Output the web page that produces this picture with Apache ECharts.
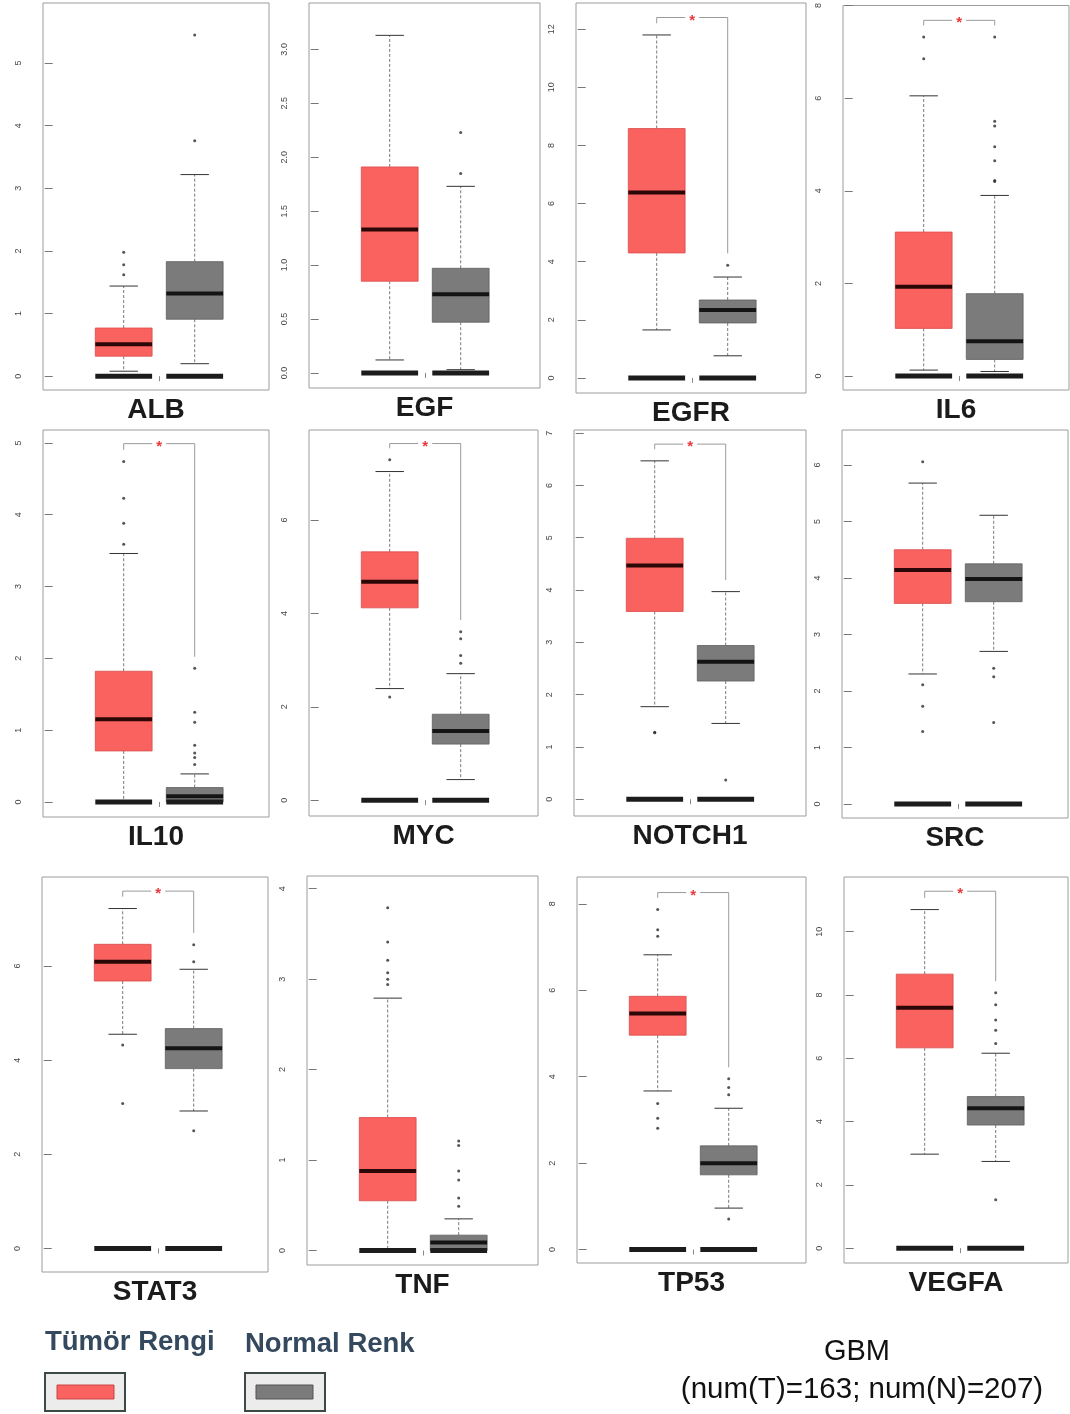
<!DOCTYPE html>
<html><head><meta charset="utf-8">
<script src="https://cdn.jsdelivr.net/npm/echarts@6/dist/echarts.min.js"></script>
<style>html,body{margin:0;padding:0;background:#fff}#c{width:1070px;height:1414px}</style>
</head><body><div id="c"></div>
<script>
// ---------- data ----------
const genes = ['ALB','EGF','EGFR','IL6','IL10','MYC','NOTCH1','SRC','STAT3','TNF','TP53','VEGFA'];
// [lower whisker, Q1, median, Q3, upper whisker]
const tumorBox = [
  [0.08,0.32,0.51,0.77,1.44],[0.12,0.85,1.33,1.91,3.13],[1.65,4.30,6.38,8.58,11.8],[0.13,1.03,1.93,3.11,6.05],
  [0.0,0.71,1.15,1.82,3.46],[2.39,4.12,4.68,5.32,7.04],[1.77,3.59,4.47,4.99,6.47],[2.3,3.55,4.14,4.5,5.68],
  [4.55,5.68,6.09,6.46,7.22],[0.0,0.55,0.88,1.47,2.79],[3.67,4.96,5.46,5.86,6.82],[2.97,6.33,7.6,8.66,10.7]
];
const normalBox = [
  [0.2,0.91,1.32,1.83,3.22],[0.03,0.47,0.73,0.97,1.73],[0.76,1.89,2.34,2.68,3.47],[0.1,0.36,0.75,1.78,3.9],
  [0.0,0.0,0.08,0.2,0.39],[0.44,1.2,1.48,1.84,2.71],[1.45,2.26,2.63,2.94,3.97],[2.7,3.58,3.98,4.25,5.11],
  [2.92,3.82,4.25,4.67,5.93],[0.0,0.0,0.09,0.17,0.35],[0.96,1.73,2.0,2.4,3.27],[2.74,3.89,4.42,4.79,6.16]
];
const tumorOut = [
  [1.62,1.78,1.98],[],[],[6.85,7.32],
  [3.59,3.88,4.23,4.74],[2.21,7.29],[1.27,1.28],[1.28,1.73,2.11,6.06],
  [3.08,4.32],[2.94,3.0,3.07,3.21,3.41,3.79],[2.81,3.04,3.38,7.25,7.4,7.87],[]
];
const normalOut = [
  [3.76,5.45],[1.85,2.23],[3.88],[4.2,4.22,4.65,4.95,5.4,5.5,7.32],
  [0.52,0.62,0.68,0.79,1.11,1.25,1.86],[2.93,3.1,3.46,3.61],[0.37],[1.44,2.25,2.4],
  [2.5,6.09,6.45],[0.49,0.58,0.78,0.88,1.16,1.21],[0.71,3.58,3.75,3.95],[1.53,6.47,6.89,7.21,7.69,8.07]
];
// significance bracket height (null = not significant)
const bracketLevel = [null,null,12.4,7.68,4.99,7.64,6.79,null,7.59,null,8.26,11.28];
const yTicks = [
  [0,1,2,3,4,5],[0,0.5,1,1.5,2,2.5,3],[0,2,4,6,8,10,12],[0,2,4,6,8],
  [0,1,2,3,4,5],[0,2,4,6],[0,1,2,3,4,5,6,7],[0,1,2,3,4,5,6],
  [0,2,4,6],[0,1,2,3,4],[0,2,4,6,8],[0,2,4,6,8,10]
];
const yRange = [
  [-0.22,5.96],[-0.14,3.43],[-0.52,12.9],[-0.3,8.0],
  [-0.21,5.18],[-0.34,7.93],[-0.32,7.06],[-0.25,6.62],
  [-0.5,7.89],[-0.16,4.14],[-0.31,8.62],[-0.47,11.73]
];
const legendLabels = ['Tümör Rengi','Normal Renk'];
const cohortTitle = 'GBM';
const cohortCounts = '(num(T)=163; num(N)=207)';

// ---------- layout ----------
const frames = [
  [43,3,269,390],[309,3,540,388],[576,3,806,393],[843,3,1069,390],
  [43,430,269,817],[309,430,538,816],[574,430,806,816],[842,430,1068,818],
  [42,877,268,1272],[307,876,538,1265],[577,877,806,1263],[844,877,1068,1263]
];
const UNIT = 71, TOFF = 80.7;
const TUMOR = '#f9625f', NORMAL = '#7b7b7b';

function boxItem(params, api) {
  const x = api.value(0), grp = api.value(6);
  const lo = api.value(1), q1 = api.value(2), med = api.value(3), q3 = api.value(4), hi = api.value(5);
  const L = api.coord([x - 0.4, 0])[0], R = api.coord([x + 0.4, 0])[0], C = api.coord([x, 0])[0];
  const cL = api.coord([x - 0.2, 0])[0], cR = api.coord([x + 0.2, 0])[0];
  const Y = v => api.coord([x, v])[1];
  const y0 = Y(0), yLo = Y(lo), yQ1 = Y(q1), yMed = Y(med), yQ3 = Y(q3), yHi = Y(hi);
  const ch = [];
  ch.push({type:'line', shape:{x1:C,y1:yQ3,x2:C,y2:yHi}, style:{stroke:'#555',lineWidth:0.8,lineDash:[3,2]}});
  ch.push({type:'line', shape:{x1:C,y1:yQ1,x2:C,y2:yLo}, style:{stroke:'#555',lineWidth:0.8,lineDash:[3,2]}});
  ch.push({type:'line', shape:{x1:cL,y1:yHi,x2:cR,y2:yHi}, style:{stroke:'#333',lineWidth:1}});
  ch.push({type:'line', shape:{x1:cL,y1:yLo,x2:cR,y2:yLo}, style:{stroke:'#333',lineWidth:1}});
  ch.push({type:'rect', shape:{x:L,y:yQ3,width:R-L,height:Math.max(yQ1-yQ3,1)},
           style:{fill: grp===0?TUMOR:NORMAL, stroke: grp===0?'#d94c4a':'#5e5e5e', lineWidth:0.8}});
  ch.push({type:'rect', shape:{x:L,y:yMed-2,width:R-L,height:4}, style:{fill: grp===0?'#2b0707':'#141414'}});
  ch.push({type:'rect', shape:{x:L,y:y0-2.5,width:R-L,height:5}, style:{fill:'#1c1c1c'}});
  return {type:'group', children: ch};
}

function bracketItem(params, api) {
  const b = api.value(0), tTop = api.value(1), nTop = api.value(2);
  const pT = api.coord([1, b]), pN = api.coord([2, b]);
  const yT = api.coord([1, tTop])[1], yN = api.coord([2, nTop])[1];
  const mid = (pT[0] + pN[0]) / 2, yb = pT[1];
  return {type:'group', children:[
    {type:'polyline', shape:{points:[[pT[0],yT],[pT[0],yb],[mid-7,yb]]}, style:{stroke:'#9a9a9a',lineWidth:1,fill:null}},
    {type:'polyline', shape:{points:[[mid+7,yb],[pN[0],yb],[pN[0],yN]]}, style:{stroke:'#9a9a9a',lineWidth:1,fill:null}},
    {type:'text', x: mid, y: yb + 3, style:{text:'*', fill:'#e8383a', font:'bold 15px "Liberation Sans"', align:'center', verticalAlign:'middle'}}
  ]};
}

const grids = [], xAxes = [], yAxes = [], series = [];
genes.forEach((g, i) => {
  const [l, t, r, b] = frames[i];
  const W = r - l;
  grids.push({left:l, top:t, width:W, height:b-t, show:true, borderColor:'#9c9c9c', borderWidth:1, backgroundColor:'#fff'});
  const xmin = 1 - TOFF / UNIT;
  xAxes.push({
    gridIndex:i, type:'value', min:xmin, max:xmin + W / UNIT,
    axisLine:{show:false}, splitLine:{show:false}, axisLabel:{show:false},
    axisTick:{show:true, customValues:[1.5], length:5, lineStyle:{color:'#888'}},
    name:g, nameLocation:'middle', nameGap:6,
    nameTextStyle:{fontFamily:'Liberation Sans', fontWeight:'bold', fontSize:28, color:'#1b1b1b', verticalAlign:'top'}
  });
  const dec = yTicks[i].some(v => v % 1 !== 0);
  yAxes.push({
    gridIndex:i, type:'value', min:yRange[i][0], max:yRange[i][1], offset:3,
    axisLine:{show:false}, splitLine:{show:false},
    axisTick:{show:true, customValues:yTicks[i], length:8, lineStyle:{color:'#777'}},
    axisLabel:{customValues:yTicks[i], rotate:90, fontSize:9, color:'#444', margin:17,
      fontFamily:'Liberation Sans', formatter: v => dec ? Number(v).toFixed(1) : String(v)}
  });
  series.push({
    type:'custom', xAxisIndex:i, yAxisIndex:i, renderItem:boxItem, silent:true,
    data:[[1, ...tumorBox[i], 0], [2, ...normalBox[i], 1]]
  });
  const pts = tumorOut[i].map(v => [1, v]).concat(normalOut[i].map(v => [2, v]));
  series.push({type:'scatter', xAxisIndex:i, yAxisIndex:i, symbolSize:3, silent:true,
    itemStyle:{color:'#2a2a2a'}, data:pts});
  if (bracketLevel[i] !== null) {
    const gap = 0.03 * (yRange[i][1] - yRange[i][0]);
    const tMax = Math.max(tumorBox[i][4], ...tumorOut[i]);
    const nMax = Math.max(normalBox[i][4], ...normalOut[i]);
    series.push({type:'custom', xAxisIndex:i, yAxisIndex:i, renderItem:bracketItem, silent:true,
      data:[[bracketLevel[i], tMax + gap, nMax + gap]]});
  }
});

const lf = 'bold 27.5px "Liberation Sans"';
const chart = echarts.init(document.getElementById('c'));
chart.setOption({
  animation:false,
  backgroundColor:'#fff',
  grid:grids, xAxis:xAxes, yAxis:yAxes, series:series,
  graphic:[
    {type:'text', x:45, y:1342, style:{text:legendLabels[0], font:lf, fill:'#34495e', verticalAlign:'middle'}},
    {type:'text', x:245, y:1344, style:{text:legendLabels[1], font:lf, fill:'#34495e', verticalAlign:'middle'}},
    {type:'rect', shape:{x:45,y:1373,width:80,height:38}, style:{fill:'#ececec', stroke:'#3d4a44', lineWidth:2}},
    {type:'rect', shape:{x:57,y:1385,width:57,height:14}, style:{fill:TUMOR, stroke:'#c94442', lineWidth:1}},
    {type:'rect', shape:{x:245,y:1373,width:80,height:38}, style:{fill:'#ececec', stroke:'#3d4a44', lineWidth:2}},
    {type:'rect', shape:{x:256,y:1385,width:57,height:14}, style:{fill:NORMAL, stroke:'#555', lineWidth:1}},
    {type:'text', x:857, y:1352, style:{text:cohortTitle, font:'29px "Liberation Sans"', fill:'#111', align:'center', verticalAlign:'middle'}},
    {type:'text', x:862, y:1390, style:{text:cohortCounts, font:'29.5px "Liberation Sans"', fill:'#111', align:'center', verticalAlign:'middle'}}
  ]
});
</script>
</body></html>
